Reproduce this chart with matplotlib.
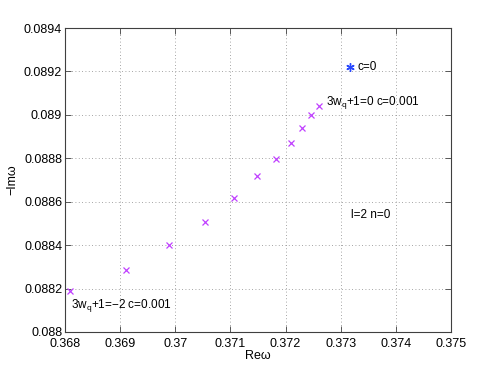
import numpy as np
import matplotlib
matplotlib.use("Agg")
import matplotlib.pyplot as plt

# data
re_w = [0.36809, 0.36910, 0.36989, 0.37054, 0.37106, 0.37149,
        0.37182, 0.37209, 0.37230, 0.37246, 0.37261]
im_w = [0.088187, 0.088287, 0.088399, 0.088507, 0.088619, 0.088719,
        0.088798, 0.088869, 0.088940, 0.089000, 0.089040]
re_c0 = [0.37316]
im_c0 = [0.089222]

xticks = [0.368, 0.369, 0.37, 0.371, 0.372, 0.373, 0.374, 0.375]
xlabels = ["0.368", "0.369", "0.37", "0.371", "0.372", "0.373", "0.374", "0.375"]
yticks = [0.088, 0.0882, 0.0884, 0.0886, 0.0888, 0.089, 0.0892, 0.0894]
ylabels = ["0.088", "0.0882", "0.0884", "0.0886", "0.0888", "0.089", "0.0892", "0.0894"]

plt.rcParams["font.family"] = ["Liberation Sans", "DejaVu Sans"]
plt.rcParams["mathtext.default"] = "regular"
plt.rcParams["font.size"] = 9

fig = plt.figure(figsize=(4.98, 3.75), dpi=100)
ax = fig.add_axes([0.1305, 0.1147, 0.7751, 0.8106])

ax.plot(re_w, im_w, "x", color="#c040ff", markersize=4.5, markeredgewidth=0.9)
ax.plot(re_c0, im_c0, marker=(6, 2, 0), linestyle="none", color="#2848ff",
        markersize=6, markeredgewidth=1.0)

ax.set_xlim(0.368, 0.375)
ax.set_ylim(0.088, 0.0894)
ax.set_xticks(xticks)
ax.set_xticklabels(xlabels)
ax.set_yticks(yticks)
ax.set_yticklabels(ylabels)
ax.tick_params(direction="in", top=True, right=True, length=4, width=0.6,
               color="#404040", pad=2)
ax.tick_params(axis="x", pad=4)
ax.grid(True, linestyle=(0, (1, 3)), color="#888888", linewidth=0.6)
for s in ax.spines.values():
    s.set_color("#404040")
    s.set_linewidth(0.8)

ax.set_xlabel("Reω", labelpad=0)
ax.set_ylabel("−Imω", labelpad=4)

fs = 8.5
ax.text(0.37331, 0.089222, "c=0", va="center", ha="left", fontsize=fs)
ax.text(0.37273, 0.089055, "3w$_q$+1=0 c=0.001", va="center", ha="left", fontsize=fs)
ax.text(0.36811, 0.088124, "3w$_q$+1=−2 c=0.001", va="center", ha="left", fontsize=fs)
ax.text(0.37319, 0.088539, "l=2 n=0", va="center", ha="left", fontsize=fs)

fig.savefig("out.png", dpi=100)
